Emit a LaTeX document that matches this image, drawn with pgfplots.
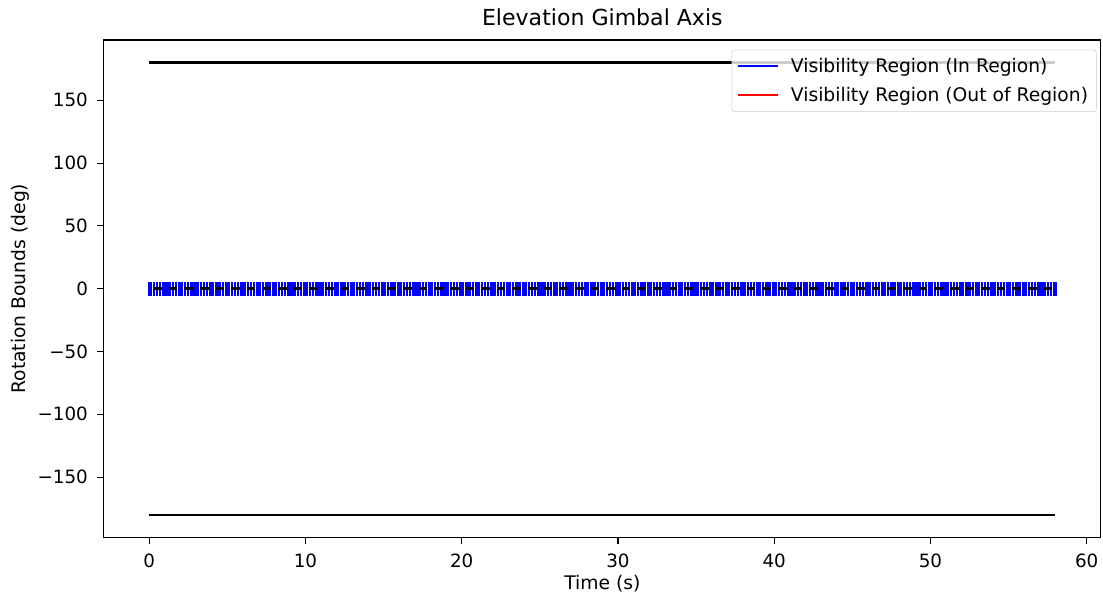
\documentclass[border=0pt]{standalone}
\usepackage{fontspec}
\setmainfont{DejaVu Sans}
\usepackage{pgfplots}
\pgfplotsset{compat=1.18}
\begin{document}
\begin{tikzpicture}
\begin{axis}[
  width=718.6pt, height=358.6pt, scale only axis,
  xmin=-2.9, xmax=60.9, ymin=-198, ymax=198,
  xtick={0,10,20,30,40,50,60},
  ytick={-150,-100,-50,0,50,100,150},
  yticklabels={−150,−100,−50,0,50,100,150},
  /pgf/number format/assume math mode=true,
  tick align=outside, tick pos=left,
  major tick length=5pt,
  every tick/.style={black, line width=0.8pt},
  axis line style={line width=0.8pt},
  tick label style={font=\fontsize{13.2}{16}\selectfont},
  xticklabel style={yshift=-3pt},
  yticklabel style={xshift=-3pt},
  label style={font=\fontsize{13.5}{16}\selectfont},
  title={Elevation Gimbal Axis},
  title style={font=\fontsize{15.9}{18}\selectfont, at={(0.5,1)}, anchor=south, yshift=0.5pt},
  xlabel={Time (s)}, ylabel={Rotation Bounds (deg)},
  xlabel style={at={(0.5,0)}, anchor=center, yshift=-33pt},
  ylabel style={at={(0,0.5)}, anchor=center, yshift=60.5pt},
  clip=false,
  legend cell align=left,
  legend style={at={(1,1)}, anchor=north east, xshift=-3pt, yshift=-7pt,
    draw=black!20, rounded corners=2pt, fill=white, fill opacity=0.8, text opacity=1,
    font=\fontsize{13.5}{16}\selectfont, row sep=5pt, inner sep=4pt},
  legend image code/.code={\draw[#1, line width=1.5pt] (0cm,0cm) -- (1cm,0cm); \path (1.25cm,0cm);},
]
% bounds
\addplot[black, line width=1.6pt, forget plot] coordinates {(0,180) (58,180)};
\addplot[black, line width=1.6pt, forget plot] coordinates {(0,-180) (58,-180)};
% blue visibility marks
\addplot[draw=none, mark=none, forget plot,
  error bars/.cd, y dir=both, y fixed=5.5, error mark=none,
  error bar style={blue, line width=1.6pt}] coordinates {
(0,0)(.1,0)(.3,0)(.5,0)(.7,0)(.9,0)
(1,0)(1.1,0)(1.3,0)(1.5,0)(1.7,0)(1.9,0)
(2,0)(2.1,0)(2.3,0)(2.5,0)(2.7,0)(2.9,0)
(3,0)(3.1,0)(3.3,0)(3.5,0)(3.7,0)(3.9,0)
(4,0)(4.1,0)(4.3,0)(4.5,0)(4.7,0)(4.9,0)
(5,0)(5.1,0)(5.3,0)(5.5,0)(5.7,0)(5.9,0)
(6,0)(6.1,0)(6.3,0)(6.5,0)(6.7,0)(6.9,0)
(7,0)(7.1,0)(7.3,0)(7.5,0)(7.7,0)(7.9,0)
(8,0)(8.1,0)(8.3,0)(8.5,0)(8.7,0)(8.9,0)
(9,0)(9.1,0)(9.3,0)(9.5,0)(9.7,0)(9.9,0)
(10,0)(10.1,0)(10.3,0)(10.5,0)(10.7,0)(10.9,0)
(11,0)(11.1,0)(11.3,0)(11.5,0)(11.7,0)(11.9,0)
(12,0)(12.1,0)(12.3,0)(12.5,0)(12.7,0)(12.9,0)
(13,0)(13.1,0)(13.3,0)(13.5,0)(13.7,0)(13.9,0)
(14,0)(14.1,0)(14.3,0)(14.5,0)(14.7,0)(14.9,0)
(15,0)(15.1,0)(15.3,0)(15.5,0)(15.7,0)(15.9,0)
(16,0)(16.1,0)(16.3,0)(16.5,0)(16.7,0)(16.9,0)
(17,0)(17.1,0)(17.3,0)(17.5,0)(17.7,0)(17.9,0)
(18,0)(18.1,0)(18.3,0)(18.5,0)(18.7,0)(18.9,0)
(19,0)(19.1,0)(19.3,0)(19.5,0)(19.7,0)(19.9,0)
(20,0)(20.1,0)(20.3,0)(20.5,0)(20.7,0)(20.9,0)
(21,0)(21.1,0)(21.3,0)(21.5,0)(21.7,0)(21.9,0)
(22,0)(22.1,0)(22.3,0)(22.5,0)(22.7,0)(22.9,0)
(23,0)(23.1,0)(23.3,0)(23.5,0)(23.7,0)(23.9,0)
(24,0)(24.1,0)(24.3,0)(24.5,0)(24.7,0)(24.9,0)
(25,0)(25.1,0)(25.3,0)(25.5,0)(25.7,0)(25.9,0)
(26,0)(26.1,0)(26.3,0)(26.5,0)(26.7,0)(26.9,0)
(27,0)(27.1,0)(27.3,0)(27.5,0)(27.7,0)(27.9,0)
(28,0)(28.1,0)(28.3,0)(28.5,0)(28.7,0)(28.9,0)
(29,0)(29.1,0)(29.3,0)(29.5,0)(29.7,0)(29.9,0)
(30,0)(30.1,0)(30.3,0)(30.5,0)(30.7,0)(30.9,0)
(31,0)(31.1,0)(31.3,0)(31.5,0)(31.7,0)(31.9,0)
(32,0)(32.1,0)(32.3,0)(32.5,0)(32.7,0)(32.9,0)
(33,0)(33.1,0)(33.3,0)(33.5,0)(33.7,0)(33.9,0)
(34,0)(34.1,0)(34.3,0)(34.5,0)(34.7,0)(34.9,0)
(35,0)(35.1,0)(35.3,0)(35.5,0)(35.7,0)(35.9,0)
(36,0)(36.1,0)(36.3,0)(36.5,0)(36.7,0)(36.9,0)
(37,0)(37.1,0)(37.3,0)(37.5,0)(37.7,0)(37.9,0)
(38,0)(38.1,0)(38.3,0)(38.5,0)(38.7,0)(38.9,0)
(39,0)(39.1,0)(39.3,0)(39.5,0)(39.7,0)(39.9,0)
(40,0)(40.1,0)(40.3,0)(40.5,0)(40.7,0)(40.9,0)
(41,0)(41.1,0)(41.3,0)(41.5,0)(41.7,0)(41.9,0)
(42,0)(42.1,0)(42.3,0)(42.5,0)(42.7,0)(42.9,0)
(43,0)(43.1,0)(43.3,0)(43.5,0)(43.7,0)(43.9,0)
(44,0)(44.1,0)(44.3,0)(44.5,0)(44.7,0)(44.9,0)
(45,0)(45.1,0)(45.3,0)(45.5,0)(45.7,0)(45.9,0)
(46,0)(46.1,0)(46.3,0)(46.5,0)(46.7,0)(46.9,0)
(47,0)(47.1,0)(47.3,0)(47.5,0)(47.7,0)(47.9,0)
(48,0)(48.1,0)(48.3,0)(48.5,0)(48.7,0)(48.9,0)
(49,0)(49.1,0)(49.3,0)(49.5,0)(49.7,0)(49.9,0)
(50,0)(50.1,0)(50.3,0)(50.5,0)(50.7,0)(50.9,0)
(51,0)(51.1,0)(51.3,0)(51.5,0)(51.7,0)(51.9,0)
(52,0)(52.1,0)(52.3,0)(52.5,0)(52.7,0)(52.9,0)
(53,0)(53.1,0)(53.3,0)(53.5,0)(53.7,0)(53.9,0)
(54,0)(54.1,0)(54.3,0)(54.5,0)(54.7,0)(54.9,0)
(55,0)(55.1,0)(55.3,0)(55.5,0)(55.7,0)(55.9,0)
(56,0)(56.1,0)(56.3,0)(56.5,0)(56.7,0)(56.9,0)
(57,0)(57.1,0)(57.3,0)(57.5,0)(57.7,0)(57.9,0)
(58,0)
};
% black centre segments
\addplot[black, line width=2pt, forget plot, dash pattern=on 6.2pt off 5.063pt]
  coordinates {(0.25,0) (57.8,0)};
\addlegendimage{blue}
\addlegendentry{Visibility Region (In Region)}
\addlegendimage{red}
\addlegendentry{Visibility Region (Out of Region)}
\end{axis}
\path ([xshift=-74.9pt,yshift=-43.9pt]current axis.south west)
  rectangle ([xshift=0.7pt,yshift=28.8pt]current axis.north east);
\end{tikzpicture}
\end{document}
